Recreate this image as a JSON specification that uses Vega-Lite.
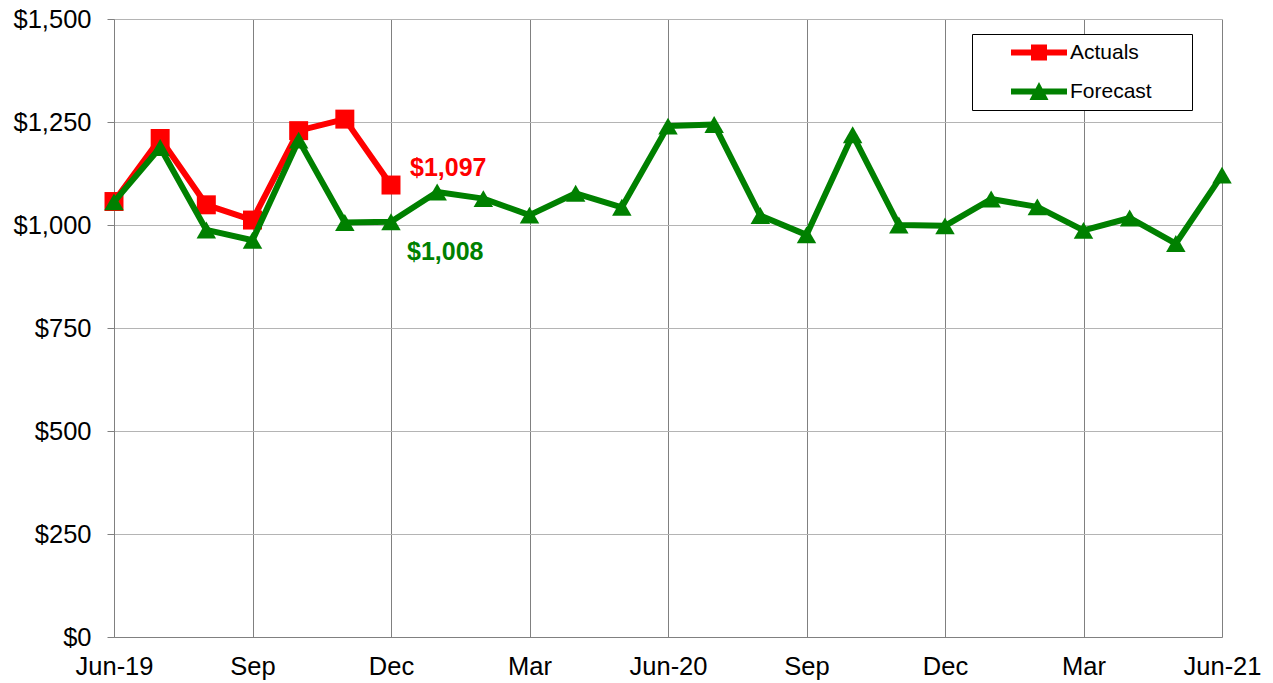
{
  "$schema": "https://vega.github.io/schema/vega-lite/v6.json",
  "width": 1108,
  "height": 618,
  "autosize": {"type": "none"},
  "padding": {"left": 114, "top": 19, "right": 51, "bottom": 46},
  "background": "white",
  "config": {
    "font": "Liberation Sans",
    "view": {"stroke": null},
    "axis": {"labelFont": "Liberation Sans", "labelColor": "black", "title": null}
  },
  "data": {
    "values": [
      {"month": "Jun-19", "series": "Actuals", "value": 1057},
      {"month": "Jul-19", "series": "Actuals", "value": 1210},
      {"month": "Aug-19", "series": "Actuals", "value": 1049},
      {"month": "Sep-19", "series": "Actuals", "value": 1012},
      {"month": "Oct-19", "series": "Actuals", "value": 1229},
      {"month": "Nov-19", "series": "Actuals", "value": 1257},
      {"month": "Dec-19", "series": "Actuals", "value": 1097},
      {"month": "Jun-19", "series": "Forecast", "value": 1056},
      {"month": "Jul-19", "series": "Forecast", "value": 1188},
      {"month": "Aug-19", "series": "Forecast", "value": 988},
      {"month": "Sep-19", "series": "Forecast", "value": 963},
      {"month": "Oct-19", "series": "Forecast", "value": 1206},
      {"month": "Nov-19", "series": "Forecast", "value": 1006},
      {"month": "Dec-19", "series": "Forecast", "value": 1008},
      {"month": "Jan-20", "series": "Forecast", "value": 1080},
      {"month": "Feb-20", "series": "Forecast", "value": 1064},
      {"month": "Mar-20", "series": "Forecast", "value": 1024},
      {"month": "Apr-20", "series": "Forecast", "value": 1077},
      {"month": "May-20", "series": "Forecast", "value": 1043},
      {"month": "Jun-20", "series": "Forecast", "value": 1240},
      {"month": "Jul-20", "series": "Forecast", "value": 1244},
      {"month": "Aug-20", "series": "Forecast", "value": 1023},
      {"month": "Sep-20", "series": "Forecast", "value": 976},
      {"month": "Oct-20", "series": "Forecast", "value": 1219},
      {"month": "Nov-20", "series": "Forecast", "value": 1000},
      {"month": "Dec-20", "series": "Forecast", "value": 998},
      {"month": "Jan-21", "series": "Forecast", "value": 1063},
      {"month": "Feb-21", "series": "Forecast", "value": 1044},
      {"month": "Mar-21", "series": "Forecast", "value": 987},
      {"month": "Apr-21", "series": "Forecast", "value": 1017},
      {"month": "May-21", "series": "Forecast", "value": 955},
      {"month": "Jun-21", "series": "Forecast", "value": 1121}
    ]
  },
  "encoding": {
    "x": {
      "field": "month",
      "type": "ordinal",
      "scale": {
        "type": "point",
        "padding": 0,
        "domain": ["Jun-19","Jul-19","Aug-19","Sep-19","Oct-19","Nov-19","Dec-19","Jan-20","Feb-20","Mar-20","Apr-20","May-20","Jun-20","Jul-20","Aug-20","Sep-20","Oct-20","Nov-20","Dec-20","Jan-21","Feb-21","Mar-21","Apr-21","May-21","Jun-21"]
      },
      "axis": {
        "values": ["Jun-19","Sep-19","Dec-19","Mar-20","Jun-20","Sep-20","Dec-20","Mar-21","Jun-21"],
        "labelExpr": "(datum.value === 'Jun-19' || datum.value === 'Jun-20' || datum.value === 'Jun-21') ? datum.value : slice(datum.value, 0, 3)",
        "labelAngle": 0,
        "labelFontSize": 25.5,
        "labelPadding": 17,
        "labelOverlap": false,
        "ticks": false,
        "grid": true,
        "gridColor": "#808080",
        "gridWidth": 1,
        "domainColor": "#808080",
        "domainWidth": 1
      }
    },
    "y": {
      "field": "value",
      "type": "quantitative",
      "scale": {"domain": [0, 1500], "nice": false, "zero": true},
      "axis": {
        "values": [0, 250, 500, 750, 1000, 1250, 1500],
        "format": "$,.0f",
        "labelFontSize": 25.5,
        "labelPadding": 16,
        "tickSize": 7,
        "tickColor": "#808080",
        "grid": true,
        "gridColor": "#b4b4b4",
        "gridWidth": 1,
        "domainColor": "#808080",
        "domainWidth": 1
      }
    },
    "color": {
      "field": "series",
      "type": "nominal",
      "scale": {"domain": ["Actuals", "Forecast"], "range": ["#ff0000", "#008000"]},
      "legend": {
        "title": null,
        "orient": "none",
        "legendX": 858,
        "legendY": 15,
        "padding": 8,
        "strokeColor": "black",
        "fillColor": "white",
        "labelFontSize": 21,
        "labelColor": "black",
        "labelFont": "Liberation Sans",
        "labelOffset": 20.5,
        "symbolOffset": 48.5,
        "rowPadding": 17,
        "encode": {
          "symbols": {
            "update": {
              "shape": {"signal": "datum.value === 'Actuals' ? 'M-2.8,-0.3H2.8V0.3H-2.8ZM-0.8,-0.8H0.8V0.8H-0.8ZM14.5,0L14.5,0Z' : 'M-2.8,-0.3H2.8V0.3H-2.8ZM0,-0.95L0.95,0.85H-0.95ZM14.5,0L14.5,0Z'"},
              "fill": {"signal": "datum.value === 'Actuals' ? '#ff0000' : '#008000'"},
              "stroke": {"signal": "datum.value === 'Actuals' ? '#ff0000' : '#008000'"},
              "strokeWidth": {"value": 0},
              "size": {"value": 400},
              "opacity": {"value": 1}
            }
          }
        }
      }
    }
  },
  "layer": [
    {
      "transform": [{"filter": "datum.series === 'Actuals'"}],
      "mark": {"type": "line", "strokeWidth": 6, "strokeJoin": "round", "strokeCap": "round"}
    },
    {
      "transform": [{"filter": "datum.series === 'Actuals'"}],
      "mark": {"type": "point", "shape": "square", "size": 360, "filled": true, "opacity": 1, "strokeWidth": 2, "strokeJoin": "round"}
    },
    {
      "transform": [{"filter": "datum.series === 'Forecast'"}],
      "mark": {"type": "line", "strokeWidth": 6, "strokeJoin": "round", "strokeCap": "round"}
    },
    {
      "transform": [{"filter": "datum.series === 'Forecast'"}],
      "mark": {"type": "point", "shape": "triangle-up", "size": 380, "filled": true, "opacity": 1, "strokeWidth": 2, "strokeJoin": "round"}
    },
    {
      "transform": [{"filter": "datum.series === 'Actuals' && datum.month === 'Dec-19'"}],
      "mark": {"type": "text", "align": "left", "baseline": "middle", "dx": 19, "dy": -17, "fontSize": 25, "fontWeight": "bold"},
      "encoding": {"text": {"field": "value", "type": "quantitative", "format": "$,.0f"}}
    },
    {
      "transform": [{"filter": "datum.series === 'Forecast' && datum.month === 'Dec-19'"}],
      "mark": {"type": "text", "align": "left", "baseline": "middle", "dx": 16, "dy": 30, "fontSize": 25, "fontWeight": "bold"},
      "encoding": {"text": {"field": "value", "type": "quantitative", "format": "$,.0f"}}
    }
  ]
}
